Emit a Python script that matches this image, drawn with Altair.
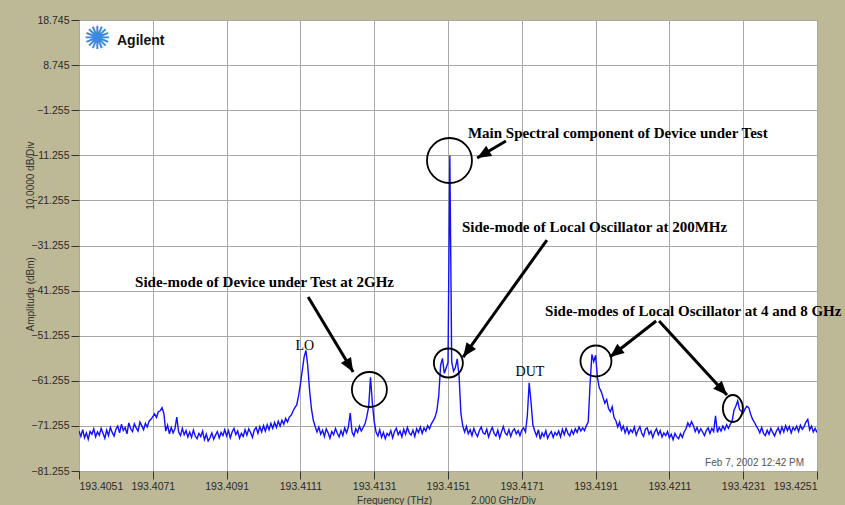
import math
import altair as alt
import pandas as pd

# ---------------- data ----------------
F_START = 193.4051          # THz, first sweep point
F_STEP = 0.00005            # THz, sweep step (50 MHz)

dbm = [
    -72.4, -73.6, -72.1, -73.9, -72.8, -74.2, -72.5, -73.1, -71.9, -73.7, -72.6, -73.3, -71.8, -72.9, -74.0, -72.2, -73.4, -71.6, -72.7, -73.5,
    -72.0, -71.3, -72.8, -70.9, -72.3, -71.6, -73.0, -70.6, -71.9, -72.5, -70.8, -71.7, -72.4, -70.4, -71.2, -72.1, -70.7, -71.5, -70.2, -69.8,
    -69.2, -68.6, -69.4, -68.1, -67.9, -67.2, -68.5, -72.4, -71.1, -73.0, -71.6, -72.8, -71.9, -69.3, -72.6, -73.4, -71.8, -73.2, -72.3, -73.7,
    -72.6, -73.8, -72.2, -73.5, -74.1, -72.9, -73.6, -72.4, -74.3, -73.1, -74.6, -73.9, -72.8, -74.2, -73.3, -72.5, -73.9, -72.7, -73.4, -72.1,
    -73.5, -72.3, -73.9, -72.6, -71.8, -73.2, -72.4, -74.0, -72.9, -73.6, -72.1, -73.3, -71.9, -72.7, -73.8, -72.2, -71.6, -72.9, -71.4, -72.6,
    -71.2, -72.4, -71.0, -72.1, -70.7, -71.8, -70.5, -71.6, -70.2, -71.3, -70.0, -70.9, -69.6, -70.4, -69.3, -68.9, -68.0, -67.2, -66.6, -64.6,
    -62.0, -59.0, -56.0, -54.5, -58.0, -63.5, -67.5, -70.0, -71.4, -72.6, -71.5, -73.1, -72.2, -73.6, -71.9, -72.8, -74.0, -72.5, -73.2, -71.8,
    -72.9, -73.7, -72.3, -73.4, -71.7, -72.8, -71.5, -68.4, -72.6, -73.5, -71.9, -72.7, -71.3, -72.4, -71.6, -70.8, -69.2, -67.0, -60.5, -66.2,
    -70.3, -72.6, -73.5, -72.1, -73.8, -72.7, -74.1, -72.9, -73.4, -72.3, -73.9, -72.5, -71.8, -73.2, -72.4, -73.7, -72.0, -73.1, -71.6, -72.8,
    -73.3, -72.2, -73.6, -71.9, -72.7, -71.5, -72.9, -71.7, -72.4, -71.2, -71.9, -70.8, -70.1, -69.3, -67.8, -64.5, -57.8, -56.3, -59.6, -58.4,
    -57.2, -11.3, -57.0, -59.1, -58.3, -56.4, -60.2, -68.5, -71.3, -72.6, -71.4, -73.0, -72.1, -73.4, -71.8, -72.9, -73.6, -72.3, -71.5, -72.8,
    -73.1, -72.0, -73.7, -72.5, -71.6, -72.9, -73.5, -72.2, -73.9, -72.6, -71.4, -72.8, -73.3, -72.1, -73.6, -72.4, -71.9, -73.0, -72.3, -73.4,
    -72.2, -71.7, -72.6, -69.0, -61.7, -66.0, -71.0, -72.4, -73.5, -72.1, -74.2, -72.8, -73.6, -72.3, -74.0, -73.1, -72.5, -73.8, -72.7, -73.3,
    -72.4, -73.7, -72.0, -73.2, -71.8, -72.9, -73.5, -72.2, -73.1, -71.9, -72.7, -71.5, -72.4, -71.7, -72.3, -71.2, -70.4, -62.0, -55.4, -57.0,
    -55.6, -60.5, -62.8, -63.6, -64.9, -66.2, -65.4, -67.4, -68.1, -67.0, -69.4, -70.1, -71.5, -70.4, -72.2, -71.3, -72.8, -71.6, -73.0, -72.1,
    -72.7, -71.5, -73.3, -72.2, -71.4, -72.9, -73.6, -72.0, -71.7, -73.1, -72.4, -73.8, -72.6, -71.9, -73.2, -72.3, -73.7, -72.8, -73.4, -72.5,
    -73.9, -73.1, -74.3, -72.9, -73.7, -74.1, -73.0, -73.8, -72.6, -71.9, -70.6, -71.4, -70.3, -71.2, -72.5, -71.6, -72.8, -71.9, -72.6, -73.4,
    -72.3, -71.7, -72.9, -71.8, -72.5, -69.0, -72.7, -71.6, -72.4, -71.3, -72.1, -71.0, -71.8, -70.9, -70.2, -67.8, -66.9, -65.7, -67.6, -68.0,
    -68.4, -67.5, -66.9, -67.2, -68.6, -69.7, -70.4, -71.2, -71.9, -72.8, -71.6, -72.9, -73.4, -72.2, -73.1, -71.8, -72.7, -73.5, -72.4, -71.7,
    -72.9, -71.5, -72.6, -71.2, -72.3, -71.4, -72.8, -71.6, -72.2, -71.3, -72.5, -71.1, -72.0, -71.4, -70.4, -69.8, -72.1, -71.3, -72.6, -71.8,
    -72.7,
]

x_ticks = [193.4051, 193.4071, 193.4091, 193.4111, 193.4131, 193.4151,
           193.4171, 193.4191, 193.4211, 193.4231, 193.4251]
y_ticks = [-81.255, -71.255, -61.255, -51.255, -41.255, -31.255,
           -21.255, -11.255, -1.255, 8.745, 18.745]

# annotations (data coordinates)
ann_text = ["Main Spectral component of Device under Test",
            "Side-mode of Local Oscillator at 200MHz",
            "Side-mode of Device under Test at 2GHz",
            "Side-modes of Local Oscillator at 4 and 8 GHz"]
ann_f = [193.41564, 193.41548, 193.40662, 193.41773]
ann_v = [-6.31, -27.15, -39.35, -45.78]

peak_text = ["LO", "DUT"]
peak_f = [193.41122, 193.41732]
peak_v = [-53.6, -59.3]

circle_f = [193.41514, 193.41511, 193.41297, 193.41911]
circle_v = [-12.41, -57.31, -63.18, -56.86]
ellipse_f = [193.42282]
ellipse_v = [-67.40]

arrow_f0 = [193.41667, 193.41778, 193.41131, 193.42074, 193.42082]
arrow_v0 = [-8.08, -30.04, -42.67, -48.0, -48.0]
arrow_f1 = [193.41589, 193.41551, 193.41253, 193.41949, 193.42266]
arrow_v1 = [-11.85, -55.98, -59.30, -55.98, -64.40]

stamp_text = ["Feb 7, 2002 12:42 PM"]
stamp_f = [193.42475]
stamp_v = [-79.48]

logo_f = [193.40559]
logo_v = [14.53]
brand_f = [193.40613]
brand_v = [14.09]

# ---------------- styles / layout ----------------
W, H = 738, 451
circle_diam = [45, 29, 35, 31]
XDOM = [x_ticks[0], x_ticks[-1]]
YDOM = [y_ticks[0], y_ticks[-1]]

NB = "\u00a0"
xaxis = alt.Axis(values=x_ticks, format=".4f", grid=True,
                 title="Frequency (THz)" + NB * 14 + "2.000 GHz/Div",
                 titleX=367, titleY=29, titleBaseline="middle", titleAlign="center")
yaxis = alt.Axis(values=y_ticks, format=".3f", grid=True,
                 title="Amplitude (dBm)" + NB * 17 + "10.0000 dB/Div",
                 titleX=-49, titleY=216, titleAngle=270,
                 titleBaseline="middle", titleAlign="center")

xs = alt.Scale(domain=XDOM, nice=False, zero=False)
ys = alt.Scale(domain=YDOM, nice=False, zero=False)


def X(field="f"):
    return alt.X(f"{field}:Q", scale=xs, axis=xaxis)


def Y(field="v"):
    return alt.Y(f"{field}:Q", scale=ys, axis=yaxis)


trace_df = pd.DataFrame({"f": [round(F_START + i * F_STEP, 6) for i in range(len(dbm))],
                         "v": dbm})
trace = alt.Chart(trace_df).mark_line(color="#1010ff", strokeWidth=1.4, clip=True).encode(
    x=X(), y=Y())

layers = [trace]

# circles
for f, v, d in zip(circle_f, circle_v, circle_diam):
    layers.append(
        alt.Chart(pd.DataFrame({"f": [f], "v": [v]})).mark_point(
            shape="circle", filled=False, color="black", strokeWidth=1.8,
            opacity=1, size=d * d).encode(x=X(), y=Y()))

ellipse_path = "M-0.74,0A0.74,1,0,1,0,0.74,0A0.74,1,0,1,0,-0.74,0Z"
layers.append(
    alt.Chart(pd.DataFrame({"f": ellipse_f, "v": ellipse_v})).mark_point(
        shape=ellipse_path, filled=False, color="black", strokeWidth=1.8,
        opacity=1, size=27 * 27).encode(x=X(), y=Y()))

# arrows
ang = []
for f0, v0, f1, v1 in zip(arrow_f0, arrow_v0, arrow_f1, arrow_v1):
    dx = (f1 - f0) / (XDOM[1] - XDOM[0]) * W
    dy = -(v1 - v0) / (YDOM[1] - YDOM[0]) * H
    ang.append(math.degrees(math.atan2(dx, -dy)) % 360)

arrow_df = pd.DataFrame({"f": arrow_f0, "v": arrow_v0, "f2": arrow_f1, "v2": arrow_v1})
layers.append(
    alt.Chart(arrow_df).mark_rule(color="black", strokeWidth=3, strokeCap="butt").encode(
        x=X(), y=Y(), x2="f2:Q", y2="v2:Q"))
head_df = pd.DataFrame({"f": arrow_f1, "v": arrow_v1, "a": ang})
layers.append(
    alt.Chart(head_df).mark_point(
        shape="M0,0L-0.42,1L0.42,1Z", filled=True, color="black", opacity=1,
        size=28 * 28, strokeWidth=0).encode(
        x=X(), y=Y(), angle=alt.Angle("a:Q", scale=None)))

# annotation texts
layers.append(
    alt.Chart(pd.DataFrame({"f": ann_f, "v": ann_v, "t": ann_text})).mark_text(
        align="left", baseline="middle", font="Liberation Serif", fontWeight="bold",
        fontSize=15, color="black").encode(x=X(), y=Y(), text="t:N"))
layers.append(
    alt.Chart(pd.DataFrame({"f": peak_f, "v": peak_v, "t": peak_text})).mark_text(
        align="center", baseline="middle", font="Liberation Serif",
        fontSize=14, color="black").encode(x=X(), y=Y(), text="t:N"))
layers.append(
    alt.Chart(pd.DataFrame({"f": stamp_f, "v": stamp_v, "t": stamp_text})).mark_text(
        align="right", baseline="middle", font="Liberation Sans",
        fontSize=10, color="#555555").encode(x=X(), y=Y(), text="t:N"))

# Agilent logo
layers.append(
    alt.Chart(pd.DataFrame({"f": logo_f, "v": logo_v, "t": ["\u273a"]})).mark_text(
        align="center", baseline="middle", font="DejaVu Sans",
        fontSize=32, color="#3a8ae0").encode(x=X(), y=Y(), text="t:N"))
layers.append(
    alt.Chart(pd.DataFrame({"f": brand_f, "v": brand_v, "t": ["Agilent"]})).mark_text(
        align="left", baseline="middle", font="Liberation Sans", fontWeight="bold",
        fontSize=14, color="#111111").encode(x=X(), y=Y(), text="t:N"))

chart = alt.layer(*layers).properties(
    width=W, height=H,
    background="#bdb996",
    padding={"left": 79, "top": 20, "right": 28, "bottom": 34},
    autosize=alt.AutoSizeParams(type="none"),
).configure_view(
    stroke="#8a8a8a", strokeWidth=1, fill="white"
).configure_axis(
    domain=False,
    gridColor="#a8a8a8", gridWidth=1, gridOpacity=1,
    tickColor="#333333", tickSize=8, tickWidth=1,
    labelFont="Liberation Sans", labelFontSize=10.5, labelColor="#2a2a2a",
    labelPadding=2,
    titleFont="Liberation Sans", titleFontSize=10, titleFontWeight="normal",
    titleColor="#333333",
)

chart.save("out.html", embed_options={"renderer": "svg", "actions": False})
